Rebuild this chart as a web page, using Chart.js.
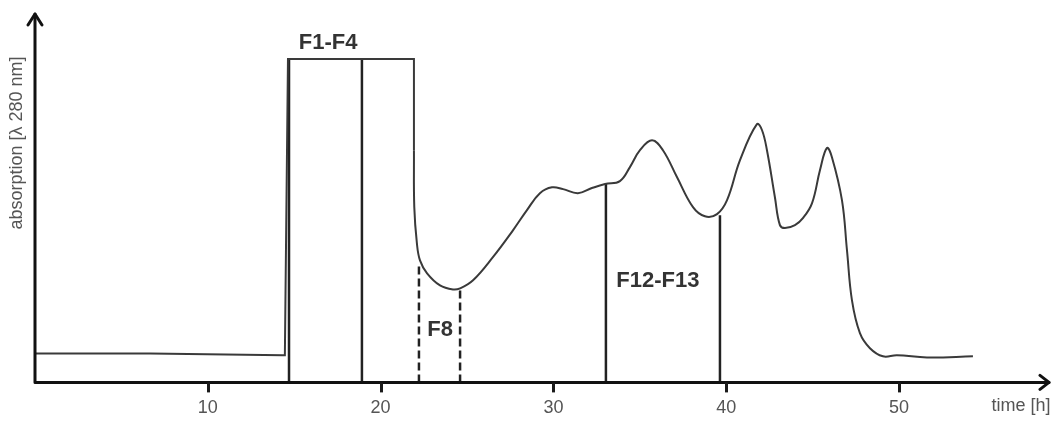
<!DOCTYPE html>
<html>
<head>
<meta charset="utf-8">
<script src="https://cdn.jsdelivr.net/npm/chart.js@4/dist/chart.umd.min.js"></script>
<style>
  html, body { margin: 0; padding: 0; background: #fff; }
  #wrap { width: 1051px; height: 423px; }
</style>
</head>
<body>
<div id="wrap"><canvas id="chromChart"></canvas></div>
<script>
// Step part of the trace: baseline, overloaded plateau and the steep drop
const stepTimes = [0, 6.66, 14.35, 14.46, 14.64, 21.93, 21.93];
const stepValues = [7.9, 7.9, 7.4, 7.4, 88, 88, 63.2];

// Smooth part of the trace (elution peaks)
const peakTimes = [21.93, 21.95, 22.1, 22.28, 22.69, 23.44, 24.19, 24.6, 25.35, 26.5, 27.66, 28.47, 29.22, 29.92,
  30.56, 31.42, 32.23, 32.99, 33.85, 34.43, 35.01, 35.71, 36.34, 37.15, 38.08, 38.77, 39.47, 40.05, 40.8, 41.78,
  42.07, 42.36, 42.82, 43.11, 43.4, 43.98, 44.44, 44.97, 45.43, 45.83, 46.12, 46.7, 46.99, 47.28, 47.74, 48.32,
  49.07, 49.88, 51.62, 54.28];
const peakValues = [63.2, 47.7, 37.9, 33.2, 29.7, 26.4, 25.3, 25.6, 27.8, 34.1, 41.4, 46.9, 51.5, 53.1,
  52.6, 51.5, 52.9, 54.0, 54.8, 58.6, 63.2, 65.9, 63.2, 55.9, 47.7, 45.2, 45.8, 49.6, 60.5, 70.3,
  68.7, 63.2, 50.4, 42.8, 42.0, 42.8, 44.7, 48.8, 57.8, 63.8, 61.3, 49.6, 36.0, 22.3, 13.4, 9.3,
  7.1, 7.4, 6.8, 7.1];

// Fraction cut lines
const cutTimes = [14.7, 18.92, 22.22, 24.6, 33.04, 39.64];
const cutTops = [88, 88, 32.4, 25.6, 54, 45.5];
const cutDashed = [false, false, true, true, false, false];

// Fraction labels
const fracNames = ['F1-F4', 'F8', 'F12-F13'];
const fracTimes = [16.96, 23.44, 36.05];
const fracLevels = [92.4, 14.2, 27.6];

const xTicks = [10, 20, 30, 40, 50];

const datasets = [
  {
    data: stepTimes.map((t, i) => ({ x: t, y: stepValues[i] })),
    borderColor: '#3a3a3a', borderWidth: 2, tension: 0, pointRadius: 0
  },
  {
    data: peakTimes.map((t, i) => ({ x: t, y: peakValues[i] })),
    borderColor: '#3a3a3a', borderWidth: 2, tension: 0.4, pointRadius: 0
  }
];
cutTimes.forEach((t, i) => {
  datasets.push({
    data: [{ x: t, y: 0 }, { x: t, y: cutTops[i] }],
    borderColor: '#222', borderWidth: 2.5, pointRadius: 0,
    borderDash: cutDashed[i] ? [8, 4] : []
  });
});

// axes with arrows, tick marks + free texts
const decorations = {
  id: 'decorations',
  afterDraw(chart) {
    const { ctx, chartArea } = chart;
    const xs = chart.scales.x, ys = chart.scales.y;
    const left = chartArea.left, bottom = chartArea.bottom;
    ctx.save();
    ctx.setLineDash([]);
    ctx.strokeStyle = '#111';
    ctx.lineWidth = 3;
    ctx.lineCap = 'round';
    ctx.lineJoin = 'round';
    ctx.beginPath();
    ctx.moveTo(left, 14);
    ctx.lineTo(left, bottom);
    ctx.lineTo(1049, bottom);
    ctx.stroke();
    ctx.beginPath();
    ctx.moveTo(left - 7, 25);
    ctx.lineTo(left, 14);
    ctx.lineTo(left + 7, 25);
    ctx.moveTo(1040, bottom - 7);
    ctx.lineTo(1049, bottom);
    ctx.lineTo(1040, bottom + 7);
    ctx.stroke();

    // tick marks below the time axis
    ctx.fillStyle = '#1a1a1a';
    xTicks.forEach((v) => {
      const px = Math.round(xs.getPixelForValue(v));
      ctx.fillRect(px - 1, bottom, 3, 10);
    });

    ctx.fillStyle = '#555';
    ctx.font = '18px "Liberation Sans", Arial, sans-serif';
    ctx.textAlign = 'center';
    ctx.textBaseline = 'middle';
    ctx.fillText('time [h]', 1021, 406);
    ctx.save();
    ctx.translate(17, 143);
    ctx.rotate(-Math.PI / 2);
    ctx.fillText('absorption [λ 280 nm]', 0, 0);
    ctx.restore();

    ctx.fillStyle = '#333';
    ctx.font = 'bold 22px "Liberation Sans", Arial, sans-serif';
    fracNames.forEach((name, i) => {
      ctx.fillText(name, xs.getPixelForValue(fracTimes[i]), ys.getPixelForValue(fracLevels[i]));
    });
    ctx.restore();
  }
};

new Chart(document.getElementById('chromChart'), {
  type: 'line',
  data: { datasets: datasets },
  options: {
    responsive: true,
    maintainAspectRatio: false,
    animation: false,
    layout: { padding: { left: 35, right: 1, top: 15, bottom: -3 } },
    plugins: { legend: { display: false }, tooltip: { enabled: false } },
    scales: {
      x: {
        type: 'linear',
        min: 0,
        max: 58.74,
        border: { display: false },
        grid: { display: false },
        ticks: {
          stepSize: 10,
          includeBounds: false,
          maxRotation: 0,
          padding: 7,
          color: '#555',
          font: { family: '"Liberation Sans", Arial, sans-serif', size: 18 },
          callback: (v) => (xTicks.includes(v) ? String(v) : '')
        }
      },
      y: { display: false, min: 0, max: 100 }
    }
  },
  plugins: [decorations]
});
</script>
</body>
</html>
